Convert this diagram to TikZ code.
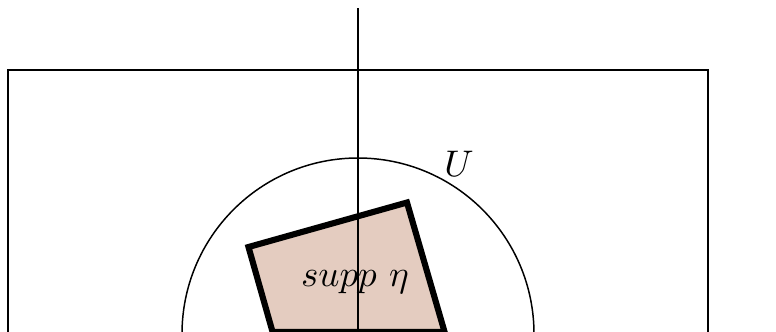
\documentclass[tikz,border=0pt]{standalone}
\definecolor{suppfill}{RGB}{228,204,192}
\tikzset{
  frame/.style={line width=0.6pt},
  axisline/.style={line width=0.38pt},
  nbhd/.style={line width=0.4pt},
  suppbox/.style={fill=suppfill, line width=1.65pt},
  lab/.style={inner sep=0pt}
}
\begin{document}
\begin{tikzpicture}[x=0.27pt,y=-0.27pt]
\useasboundingbox (0,0) rectangle (776,331);
\clip (0,0) rectangle (776,331);
\draw[frame] (8,70) rectangle (708,420);
\draw[nbhd] (358,334) circle[radius=176];
\draw[suppbox] (248.5,247) -- (407,202.5) -- (444.6,332) -- (272.6,332) -- cycle;
\coordinate (top) at (358,8);
\coordinate (bot) at (358,345);
\draw[axisline] (top) -- (bot);
\node[lab] (Ulabel) at (459,164) {$U$};
\node[lab,anchor=base] (supp) at (355,286.7) {$supp\ \eta$};
\end{tikzpicture}
\end{document}
